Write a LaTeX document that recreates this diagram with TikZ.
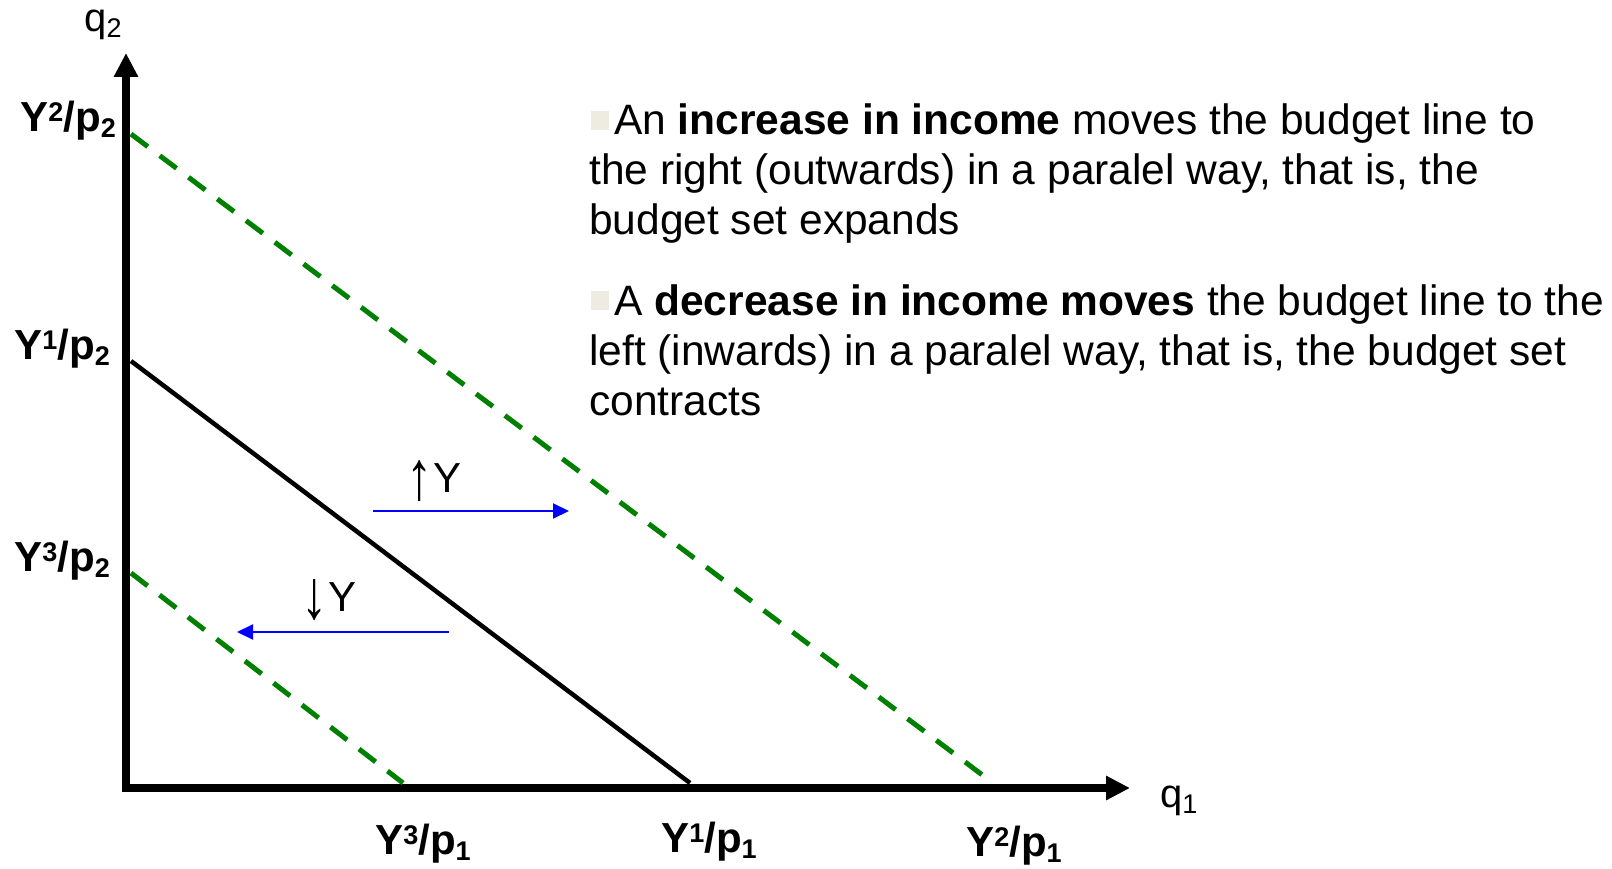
\documentclass[tikz,border=0pt]{standalone}
\usepackage{fontspec}
\setmainfont{Liberation Sans}
\usetikzlibrary{arrows.meta}
\definecolor{bgreen}{RGB}{0,128,0}
\definecolor{bulletc}{RGB}{238,236,225}
\newcommand{\supx}[1]{\raisebox{10pt}{\fontsize{27}{27}\selectfont #1}}
\newcommand{\subx}[1]{\raisebox{-6pt}{\fontsize{27}{27}\selectfont #1}}
\newcommand{\subq}[1]{\raisebox{-6pt}{\fontsize{27}{27}\selectfont #1}}
\newcommand{\bigarr}[1]{\raisebox{-7pt}{\scalebox{1.25}[1.65]{#1}}}
\begin{document}
\begin{tikzpicture}[x=1pt,y=-1pt,
  axis/.style={line width=8pt, -{Triangle[length=24pt,width=23pt]}},
  budget/.style={line width=4.5pt, black},
  shifted/.style={line width=5pt, bgreen, dash pattern=on 21pt off 15pt},
  shiftarrow/.style={line width=2pt, blue, -{Triangle[length=16pt,width=15pt]}},
  axlab/.style={font=\fontsize{42}{50}\selectfont\bfseries, inner sep=0pt},
  body/.style={font=\fontsize{42.5}{50}\selectfont, inner sep=0pt, anchor=base west},
  varlab/.style={font=\fontsize{40}{48}\selectfont, inner sep=0pt},
  shiftlab/.style={font=\fontsize{42}{50}\selectfont, inner sep=0pt, anchor=base},
  bulletbox/.style={fill=bulletc, draw=none, minimum width=18pt, minimum height=19pt, inner sep=0pt, anchor=north west},
]
\useasboundingbox (0,0) rectangle (1612,869);

% axes
\coordinate (ybot) at (126,792);
\coordinate (ytop) at (126,53);
\coordinate (xstart) at (122,788);
\coordinate (xend) at (1130,788);
\draw[axis] (ybot) -- (ytop);
\draw[axis] (xstart) -- (xend);

% budget lines
\coordinate (A2) at (131,134); \coordinate (B2) at (993,783);
\coordinate (A1) at (131,361); \coordinate (B1) at (690,783);
\coordinate (A3) at (131,573); \coordinate (B3) at (403,783);
\draw[shifted] (A2) -- (B2);
\draw[budget] (A1) -- (B1);
\draw[shifted] (A3) -- (B3);

% axis labels
\node[varlab, anchor=base] (q2) at (103,32) {q\subq{2}};
\node[varlab, anchor=base west] (q1) at (1160,807) {q\subq{1}};
\node[axlab, anchor=base east] (ly2) at (116,132) {Y\supx{2}/p\subx{2}};
\node[axlab, anchor=base east] (ly1) at (110,359) {Y\supx{1}/p\subx{2}};
\node[axlab, anchor=base east] (ly3) at (110,571) {Y\supx{3}/p\subx{2}};
\node[axlab, anchor=base] (lx3) at (423,854) {Y\supx{3}/p\subx{1}};
\node[axlab, anchor=base] (lx1) at (709,852) {Y\supx{1}/p\subx{1}};
\node[axlab, anchor=base] (lx2) at (1014,856) {Y\supx{2}/p\subx{1}};

% shift arrows
\coordinate (u1) at (373,511); \coordinate (u2) at (569,511);
\coordinate (d1) at (449,632); \coordinate (d2) at (237,632);
\draw[shiftarrow] (u1) -- (u2);
\draw[shiftarrow] (d1) -- (d2);
\node[shiftlab] (upY) at (434,492) {\bigarr{↑}Y};
\node[shiftlab] (downY) at (329,611) {\bigarr{↓}Y};

% text
\node[bulletbox] (b1) at (591,111) {};
\node[body] (t1a) at (614,135) {An \textbf{increase in income} moves the budget line to};
\node[body] (t1b) at (589,185) {the right (outwards) in a paralel way, that is, the};
\node[body] (t1c) at (589,235) {budget set expands};
\node[bulletbox] (b2) at (591,291) {};
\node[body] (t2a) at (614,315) {A \textbf{decrease in income moves} the budget line to the};
\node[body] (t2b) at (589,365) {left (inwards) in a paralel way, that is, the budget set};
\node[body] (t2c) at (589,415) {contracts};
\end{tikzpicture}
\end{document}
